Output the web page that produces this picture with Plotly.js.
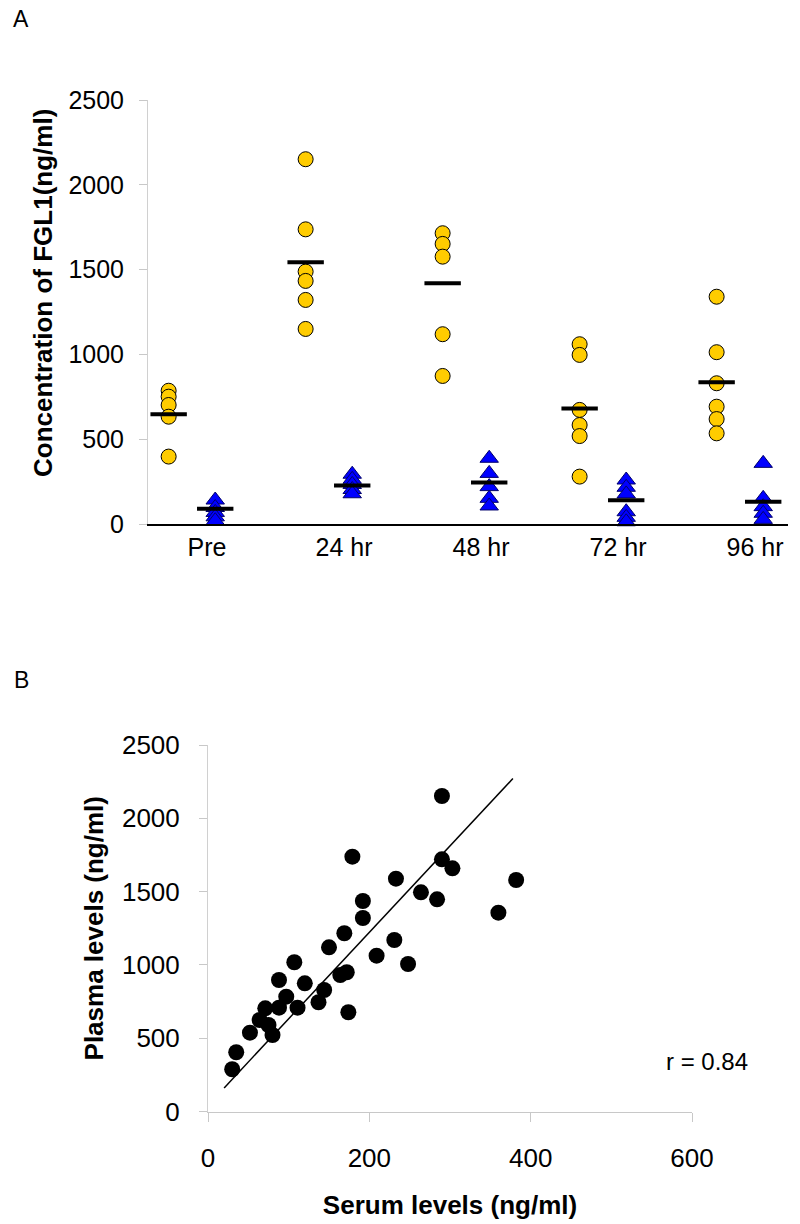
<!DOCTYPE html>
<html>
<head>
<meta charset="utf-8">
<script src="https://cdn.plot.ly/plotly-3.0.1.min.js"></script>
<style>html,body{margin:0;padding:0;background:#fff}</style>
</head>
<body>
<div id="chart" style="width:800px;height:1224px"></div>
<script>
// ---------- Panel A data ----------
const categories = ['Pre', '24 hr', '48 hr', '72 hr', '96 hr'];
const plasmaPre  = [787, 752, 703, 634, 399];
const plasma24   = [2151, 1738, 1489, 1434, 1322, 1151];
const plasma48   = [1715, 1652, 1577, 1120, 874];
const plasma72   = [1061, 998, 674, 585, 520, 281];
const plasma96   = [1341, 1014, 831, 693, 620, 536];
const serumPre   = [143, 99, 70, 44, 21];
const serum24    = [295, 265, 235, 205, 180];
const serum48    = [389, 300, 222, 153, 108];
const serum72    = [261, 218, 179, 74, 41, 15];
const serum96    = [359, 153, 104, 65, 29];
const plasmaMeans = [648, 1544, 1420, 683, 837];
const serumMeans  = [92, 228, 247, 141, 133];
const titleA = 'Concentration of FGL1(ng/ml)';

// ---------- Panel B data ----------
const serumLevels  = [290, 179, 290, 303, 382, 233, 264, 284, 360, 192, 192, 169, 150, 231, 209, 248, 107,
                      88, 120, 172, 164, 144, 137, 174, 97, 88, 111, 71, 64, 75, 52, 80, 35, 30];
const plasmaLevels = [2152, 1738, 1720, 1659, 1579, 1588, 1495, 1447, 1356, 1436, 1320, 1216, 1120, 1170, 1063, 1006, 1018,
                      897, 874, 950, 931, 829, 745, 677, 783, 708, 708, 704, 624, 590, 538, 522, 404, 288];
const fitSlope = 5.895;
const fitIntercept = 43;
const fitXRange = [20, 378];
const rText = 'r = 0.84';

// ---------- build traces ----------
const plasmaGroups = [plasmaPre, plasma24, plasma48, plasma72, plasma96];
const serumGroups  = [serumPre, serum24, serum48, serum72, serum96];
const yellowOffset = -0.28, blueOffset = 0.06;

function flatten(groups, off) {
  const xs = [], ys = [];
  groups.forEach((g, i) => g.forEach(v => { xs.push(i + off); ys.push(v); }));
  return {xs, ys};
}
const pl = flatten(plasmaGroups, yellowOffset);
const se = flatten(serumGroups, blueOffset);
const idx = categories.map((c, i) => i);

const font = 'Liberation Sans, Arial, sans-serif';

const traces = [
  {type: 'scatter', mode: 'markers', x: pl.xs, y: pl.ys, xaxis: 'x', yaxis: 'y', cliponaxis: false,
   marker: {symbol: 'circle', size: 15, color: '#FFCC00', line: {color: '#000000', width: 1}}, name: 'Plasma'},
  {type: 'scatter', mode: 'markers', x: se.xs, y: se.ys, xaxis: 'x', yaxis: 'y', cliponaxis: false,
   marker: {symbol: 'triangle-up', size: 16, color: '#0000FF', line: {color: '#00006A', width: 1}}, name: 'Serum'},
  {type: 'scatter', mode: 'markers', x: idx.map(i => i + yellowOffset), y: plasmaMeans, xaxis: 'x', yaxis: 'y', cliponaxis: false,
   marker: {symbol: 'line-ew', size: 26, line: {color: '#000000', width: 4}}, name: 'Plasma mean'},
  {type: 'scatter', mode: 'markers', x: idx.map(i => i + blueOffset), y: serumMeans, xaxis: 'x', yaxis: 'y', cliponaxis: false,
   marker: {symbol: 'line-ew', size: 26, line: {color: '#000000', width: 4}}, name: 'Serum mean'},
  {type: 'scatter', mode: 'lines', x: fitXRange, y: fitXRange.map(v => fitSlope * v + fitIntercept), xaxis: 'x2', yaxis: 'y2',
   line: {color: '#000000', width: 1.5}, cliponaxis: false, name: 'Fit'},
  {type: 'scatter', mode: 'markers', x: serumLevels, y: plasmaLevels, xaxis: 'x2', yaxis: 'y2', cliponaxis: false,
   marker: {symbol: 'circle', size: 16, color: '#000000'}, name: 'Pairs'}
];

const layout = {
  width: 800, height: 1224,
  margin: {l: 0, r: 0, t: 0, b: 0},
  paper_bgcolor: '#ffffff', plot_bgcolor: '#ffffff',
  showlegend: false,
  font: {family: font, color: '#000000'},
  xaxis: {
    domain: [148 / 800, 788 / 800], range: [-0.4307, 4.241], anchor: 'y',
    tickmode: 'array', tickvals: idx, ticktext: categories,
    ticks: '', showgrid: false, zeroline: false,
    showline: true, linecolor: '#000000', linewidth: 1.5,
    tickfont: {size: 25, family: font, color: '#000000'}
  },
  yaxis: {
    domain: [1 - 524.3 / 1224, 1 - 100 / 1224], range: [0, 2500], anchor: 'x',
    dtick: 500, tick0: 0, ticks: 'outside', ticklen: 8, tickcolor: '#c8c8c8', tickwidth: 1,
    showgrid: false, zeroline: false, showline: true, linecolor: '#d0d0d0', linewidth: 1,
    ticklabelstandoff: 10,
    tickfont: {size: 25, family: font, color: '#000000'}
  },
  xaxis2: {
    domain: [208 / 800, 692 / 800], range: [0, 600], anchor: 'y2',
    dtick: 200, tick0: 0, ticks: 'outside', ticklen: 9, tickcolor: '#c8c8c8', tickwidth: 1,
    showgrid: false, zeroline: false, showline: true, linecolor: '#c8c8c8', linewidth: 1,
    ticklabelstandoff: 14,
    tickfont: {size: 26, family: font, color: '#000000'},
    title: {text: 'Serum levels (ng/ml)', standoff: 24,
            font: {size: 26, family: font, color: '#000000', weight: 'bold'}}
  },
  yaxis2: {
    domain: [1 - 1111.5 / 1224, 1 - 745 / 1224], range: [0, 2500], anchor: 'x2',
    dtick: 500, tick0: 0, ticks: 'outside', ticklen: 8, tickcolor: '#c8c8c8', tickwidth: 1,
    showgrid: false, zeroline: false, showline: true, linecolor: '#d0d0d0', linewidth: 1,
    ticklabelstandoff: 14,
    tickfont: {size: 26, family: font, color: '#000000'},
    title: {text: 'Plasma levels (ng/ml)', standoff: 10,
            font: {size: 26, family: font, color: '#000000', weight: 'bold'}}
  },
  annotations: [
    {text: titleA, xref: 'paper', yref: 'paper', x: 43 / 800, y: 1 - 293 / 1224, xanchor: 'center', yanchor: 'middle',
     textangle: -90, showarrow: false, font: {size: 26, family: font, color: '#000000', weight: 'bold'}},
    {text: 'A', xref: 'paper', yref: 'paper', x: 21 / 800, y: 1 - 19 / 1224, xanchor: 'center', yanchor: 'middle',
     showarrow: false, font: {size: 23, family: font, color: '#000000'}},
    {text: 'B', xref: 'paper', yref: 'paper', x: 21 / 800, y: 1 - 680 / 1224, xanchor: 'center', yanchor: 'middle',
     showarrow: false, font: {size: 23, family: font, color: '#000000'}},
    {text: rText, xref: 'paper', yref: 'paper', x: 707 / 800, y: 1 - 1061 / 1224, xanchor: 'center', yanchor: 'middle',
     showarrow: false, font: {size: 24, family: font, color: '#000000'}}
  ]
};

Plotly.newPlot('chart', traces, layout, {staticPlot: true, displayModeBar: false});
</script>
</body>
</html>
